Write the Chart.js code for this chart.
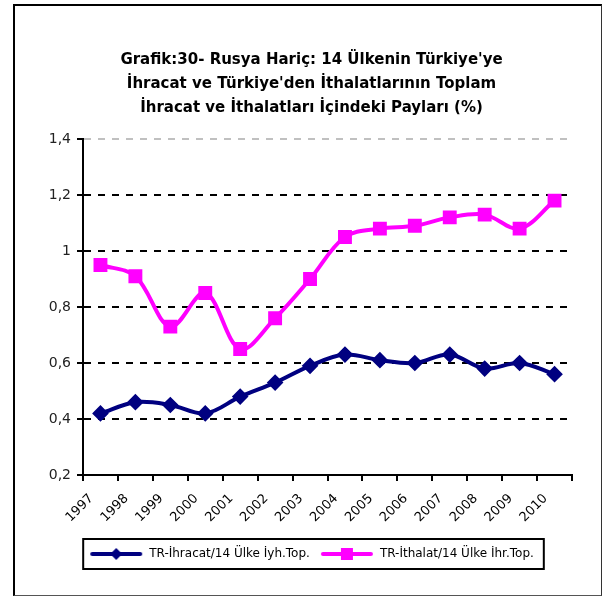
<!DOCTYPE html>
<html>
<head>
<meta charset="utf-8">
<script src="https://cdn.jsdelivr.net/npm/chart.js@4"></script>
<style>
  body { margin: 0; background: #fff; }
  #wrap { position: relative; width: 603px; height: 596px; }
  #frame { position: absolute; left: 13px; top: 4px; width: 586px; height: 589px;
           border-top: 2px solid #000; border-left: 2px solid #000;
           border-right: 1px solid #333; border-bottom: 1px solid #555; pointer-events: none; }
</style>
</head>
<body>
<div id="wrap">
  <canvas id="grafik" width="603" height="596"></canvas>
  <div id="frame"></div>
</div>
<script>
// yıllar ve seriler
const years = ['1997','1998','1999','2000','2001','2002','2003','2004','2005','2006','2007','2008','2009','2010'];
const ihracat = [0.42, 0.46, 0.45, 0.42, 0.48, 0.53, 0.59, 0.63, 0.61, 0.60, 0.63, 0.58, 0.60, 0.56];
const ithalat = [0.95, 0.91, 0.73, 0.85, 0.65, 0.76, 0.90, 1.05, 1.08, 1.09, 1.12, 1.13, 1.08, 1.18];
const seriesNames = ['TR-İhracat/14 Ülke İyh.Top.', 'TR-İthalat/14 Ülke İhr.Top.'];
const titleLines = ["Grafik:30- Rusya Hariç: 14 Ülkenin Türkiye'ye",
                    "İhracat ve Türkiye'den İthalatlarının Toplam",
                    "İhracat ve İthalatları İçindeki Payları (%)"];

const FONT = "'DejaVu Sans', sans-serif";

// legend icon: line + marker
function legendIcon(color, shape) {
  const c = document.createElement('canvas');
  c.width = 54; c.height = 14;
  const g = c.getContext('2d');
  g.strokeStyle = color; g.lineWidth = 4; g.lineCap = 'round';
  g.beginPath(); g.moveTo(3, 7); g.lineTo(51, 7); g.stroke();
  g.fillStyle = color;
  if (shape === 'diamond') {
    g.beginPath(); g.moveTo(27, 1); g.lineTo(33, 7); g.lineTo(27, 13); g.lineTo(21, 7); g.closePath(); g.fill();
  } else {
    g.fillRect(21, 1, 12, 12);
  }
  return c;
}

// legend border
const legendBox = {
  id: 'legendBox',
  afterDraw(chart) {
    const boxes = chart.legend.legendHitBoxes;
    if (!boxes || !boxes.length) return;
    const ctx = chart.ctx;
    const l = Math.min(...boxes.map(b => b.left)) - 6;
    const r = Math.max(...boxes.map(b => b.left + b.width)) + 10;
    const cy = boxes[0].top + boxes[0].height / 2;
    ctx.save();
    ctx.strokeStyle = '#000'; ctx.lineWidth = 2;
    ctx.strokeRect(l, cy - 15, r - l, 30);
    ctx.restore();
  }
};

let ctx = document.getElementById('grafik').getContext('2d');
new Chart(ctx, {
  type: 'line',
  data: {
    labels: years,
    datasets: [{
      label: seriesNames[0],
      data: ihracat,
      borderColor: '#000080',
      backgroundColor: '#000080',
      borderWidth: 4,
      pointStyle: 'rectRot',
      pointRadius: 5.5,
      pointHoverRadius: 5.5,
      tension: 0.35,
      legendIcon: legendIcon('#000080', 'diamond')
    }, {
      label: seriesNames[1],
      data: ithalat,
      borderColor: '#ff00ff',
      backgroundColor: '#ff00ff',
      borderWidth: 4,
      pointStyle: 'rect',
      pointRadius: 7,
      pointHoverRadius: 7,
      tension: 0.35,
      legendIcon: legendIcon('#ff00ff', 'square')
    }]
  },
  plugins: [legendBox],
  options: {
    responsive: false,
    animation: false,
    layout: { padding: { left: 20, right: 0, top: 0, bottom: 26 } },
    plugins: {
      title: {
        display: true,
        text: titleLines,
        color: '#000',
        font: { family: FONT, size: 15, weight: 'bold', lineHeight: 24 / 15 },
        padding: { top: 48, bottom: 19 }
      },
      legend: {
        position: 'bottom',
        labels: {
          color: '#000',
          font: { family: FONT, size: 12 },
          usePointStyle: true,
          pointStyleWidth: 54,
          padding: 10,
          generateLabels(chart) {
            return chart.data.datasets.map((ds, i) => ({
              text: ds.label,
              pointStyle: ds.legendIcon,
              fillStyle: ds.borderColor,
              strokeStyle: ds.borderColor,
              lineWidth: 0,
              datasetIndex: i
            }));
          }
        }
      },
      tooltip: { enabled: false }
    },
    scales: {
      x: {
        offset: true,
        afterFit(scale) { scale.height = 63; },
        grid: { offset: true, drawOnChartArea: false, color: '#000', lineWidth: 2, tickLength: 6 },
        border: { color: '#000', width: 2 },
        ticks: { color: '#000', font: { family: FONT, size: 13 }, minRotation: 45, maxRotation: 45, padding: 10, labelOffset: -9 }
      },
      y: {
        min: 0.2,
        max: 1.4,
        afterFit(scale) { scale.width = 63; },
        grid: {
          color(c) { return c.tick && c.tick.value >= 1.39 ? '#c0c0c0' : '#000'; },
          tickColor: '#000',
          lineWidth: 2,
          tickLength: 6
        },
        border: { color: '#000', width: 2, dash: [7, 7] },
        ticks: {
          stepSize: 0.2,
          color: '#222',
          font: { family: FONT, size: 14 },
          padding: 6,
          callback(v) { return Number(v.toFixed(1)).toString().replace('.', ','); }
        }
      },
      // boş sağ kenar
      yr: {
        position: 'right',
        afterFit(scale) { scale.width = 31; },
        grid: { display: false },
        border: { display: false },
        ticks: { display: false }
      }
    }
  }
});
</script>
</body>
</html>
